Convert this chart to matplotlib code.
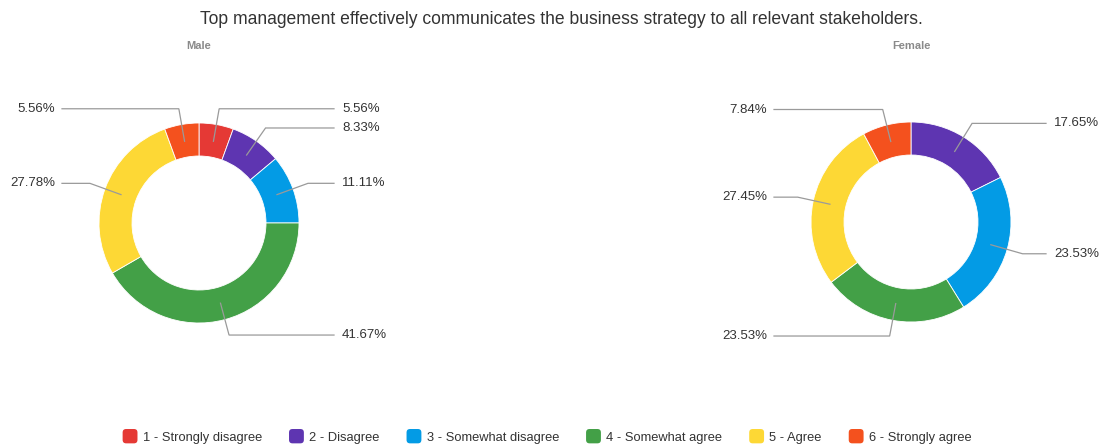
import matplotlib
matplotlib.use("Agg")
import numpy as np
import matplotlib.pyplot as plt
from matplotlib.patches import Patch, FancyBboxPatch
from matplotlib.legend_handler import HandlerPatch

plt.rcParams['font.family'] = ['Liberation Sans', 'DejaVu Sans']

title = "Top management effectively communicates the business strategy to all relevant stakeholders."
categories = ["1 - Strongly disagree", "2 - Disagree", "3 - Somewhat disagree",
              "4 - Somewhat agree", "5 - Agree", "6 - Strongly agree"]
colors = ["#E53935", "#5E35B1", "#039BE5", "#43A047", "#FDD835", "#F4511E"]
male = [5.56, 8.33, 11.11, 41.67, 27.78, 5.56]
female = [0.0, 17.65, 23.53, 23.53, 27.45, 7.84]

W, H = 1103, 445
fig = plt.figure(figsize=(W / 100, H / 100), dpi=100)

fig.text(561 / W, 1 - 20 / H, title, ha="center", va="center", fontsize=12.65, color="#333333")


def donut(cx, cy, values, name):
    # one data unit = 100 px
    ax = fig.add_axes([(cx - 150) / W, (H - cy - 150) / H, 300 / W, 300 / H])
    wedges, _ = ax.pie(values, colors=colors, startangle=90, counterclock=False,
                       radius=1.0, wedgeprops=dict(width=0.33, edgecolor="white", linewidth=0.6))
    ax.set_xlim(-1.5, 1.5)
    ax.set_ylim(-1.5, 1.5)
    ax.axis("off")
    for w, v in zip(wedges, values):
        if v <= 0:
            continue
        ang = np.deg2rad((w.theta1 + w.theta2) / 2)
        x0, y0 = 0.83 * np.cos(ang), 0.83 * np.sin(ang)
        x1, y1 = 1.16 * np.cos(ang), 1.16 * np.sin(ang)
        right = np.cos(ang) >= 0
        x2 = 1.35 if right else -1.37
        ax.plot([x0, x1, x2], [y0, y1, y1], color="#9a9a9a", lw=0.9,
                clip_on=False, solid_joinstyle="miter")
        ax.text(1.43 if right else -1.44, y1, "%.2f%%" % v, ha="left" if right else "right",
                va="center", fontsize=9.5, color="#333333", clip_on=False)
    fig.text(cx / W, 1 - 46 / H, name, ha="center", va="center", fontsize=8,
             fontweight="bold", color="#8a8a8a")


donut(199, 223, male, "Male")
donut(911, 222, female, "Female")


class RoundBox(HandlerPatch):
    def create_artists(self, legend, orig_handle, xdescent, ydescent, width, height,
                       fontsize, trans):
        p = FancyBboxPatch((-xdescent, -ydescent - 1), width, height + 2,
                           boxstyle="round,pad=0,rounding_size=2.5",
                           facecolor=orig_handle.get_facecolor(), edgecolor="none",
                           transform=trans)
        return [p]


handles = [Patch(facecolor=c, edgecolor=c, label=l) for c, l in zip(colors, categories)]
fig.legend(handles=handles, loc="center", bbox_to_anchor=(547 / W, 1 - 437 / H), ncol=6,
           frameon=False, fontsize=9.3, handlelength=1.15, handleheight=1.0,
           handletextpad=0.4, columnspacing=2.1, labelcolor="#333333",
           handler_map={Patch: RoundBox()})

fig.savefig("out.png", dpi=100)
